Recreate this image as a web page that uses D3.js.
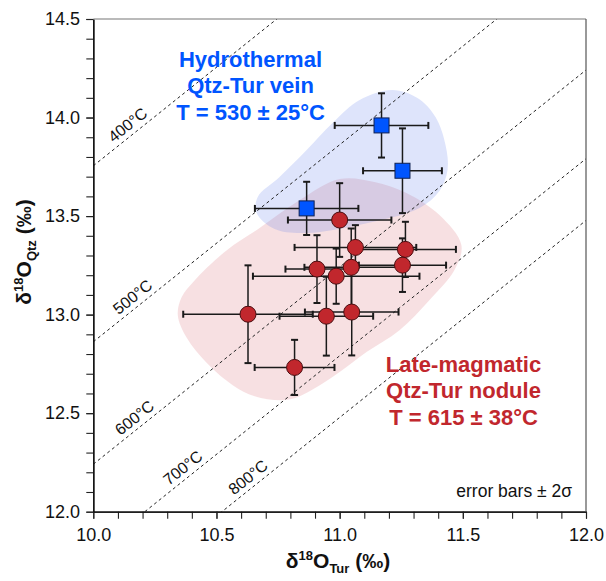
<!DOCTYPE html>
<html>
<head>
<meta charset="utf-8">
<script src="https://cdn.jsdelivr.net/npm/d3@7"></script>
<style>
body { margin: 0; background: #fff; }
svg { font-family: "Liberation Sans", Arial, sans-serif; }
</style>
</head>
<body>
<svg id="drawing_region"></svg>
<script>
// tick labels
const xTicks = [10.0, 10.5, 11.0, 11.5, 12.0];
const yTicks = [12.0, 12.5, 13.0, 13.5, 14.0, 14.5];

// isotherms: δQtz = δTur + delta
const isoLabels = ['400°C', '500°C', '600°C', '700°C', '800°C'];
const isoDelta = [3.755, 2.862, 2.241, 1.791, 1.478];
const isoLabelTur = [10.166, 10.186, 10.194, 10.39, 10.655];

// hydrothermal vein (squares)
const hydTur = [11.17, 11.255, 10.866];
const hydTurErr = [0.19, 0.16, 0.21];
const hydQtz = [13.96, 13.73, 13.539];
const hydQtzErr = [0.163, 0.215, 0.135];

// late-magmatic nodule (circles)
const magTur = [11.0, 11.064, 11.267, 11.255, 11.047, 10.986, 10.908, 10.628, 10.946, 11.049, 10.817];
const magTurErr = [0.21, 0.247, 0.205, 0.177, 0.19, 0.338, 0.128, 0.263, 0.19, 0.19, 0.162];
const magQtz = [13.48, 13.341, 13.331, 13.251, 13.24, 13.195, 13.231, 13.002, 12.992, 13.013, 12.732];
const magQtzErr = [0.187, 0.113, 0.14, 0.136, 0.197, 0.14, 0.172, 0.248, 0.2, 0.22, 0.14];

// field outlines [δTur, δQtz]
const hydField = [
    [11.214, 14.140], [11.316, 14.099], [11.389, 14.003], [11.430, 13.860],
    [11.438, 13.734], [11.405, 13.627], [11.324, 13.541], [11.133, 13.470],
    [10.866, 13.414], [10.736, 13.434], [10.663, 13.515], [10.667, 13.596],
    [10.756, 13.698], [10.866, 13.835], [10.971, 13.972], [11.081, 14.089]
];
const magField = [
    [11.000, 13.688], [11.141, 13.673], [11.271, 13.617], [11.405, 13.505],
    [11.494, 13.353], [11.466, 13.226], [11.365, 13.074], [11.243, 12.921],
    [11.109, 12.810], [10.971, 12.683], [10.838, 12.586], [10.769, 12.566],
    [10.655, 12.586], [10.566, 12.642], [10.461, 12.754], [10.380, 12.881],
    [10.343, 12.997], [10.359, 13.089], [10.412, 13.175], [10.542, 13.327],
    [10.675, 13.439], [10.838, 13.581]
];

const width = 606, height = 581;
const margin = {top: 19, right: 20, bottom: 69.3, left: 93.3};
const innerW = width - margin.left - margin.right;
const innerH = height - margin.top - margin.bottom;

const svg = d3.select('#drawing_region')
    .attr('width', width)
    .attr('height', height);

const chart = svg.append('g')
    .attr('transform', `translate(${margin.left}, ${margin.top})`);

const xscale = d3.scaleLinear().domain([10, 12]).range([0, innerW]);
const yscale = d3.scaleLinear().domain([12, 14.5]).range([innerH, 0]);

chart.append('clipPath').attr('id', 'plotclip')
    .append('rect').attr('width', innerW).attr('height', innerH);

const plot = chart.append('g').attr('clip-path', 'url(#plotclip)');

// fields
const outline = d3.line()
    .x(d => xscale(d[0]))
    .y(d => yscale(d[1]))
    .curve(d3.curveCatmullRomClosed.alpha(0.5));

plot.append('path')
    .attr('d', outline(magField))
    .attr('fill', 'rgb(205,70,85)')
    .attr('fill-opacity', 0.17);

plot.append('path')
    .attr('d', outline(hydField))
    .attr('fill', 'rgb(90,120,235)')
    .attr('fill-opacity', 0.2);

// isotherms
const angle = Math.atan2(yscale(12) - yscale(13), xscale(11) - xscale(10)) * 180 / Math.PI;

plot.selectAll('.iso')
    .data(isoDelta)
    .enter()
    .append('line')
    .attr('x1', xscale(10))
    .attr('y1', d => yscale(10 + d))
    .attr('x2', xscale(12))
    .attr('y2', d => yscale(12 + d))
    .attr('stroke', '#222')
    .attr('stroke-width', 1)
    .attr('stroke-dasharray', '3,3');

chart.selectAll('.isolabel')
    .data(isoLabels)
    .enter()
    .append('text')
    .attr('transform', (d, i) => {
        const x = xscale(isoLabelTur[i]);
        const y = yscale(isoLabelTur[i] + isoDelta[i]);
        return `translate(${x}, ${y}) rotate(${-angle})`;
    })
    .attr('y', -5)
    .attr('text-anchor', 'middle')
    .attr('font-size', 16)
    .attr('fill', '#111')
    .text(d => d);

// error bars
function errorBars(tur, turErr, qtz, qtzErr) {
    const g = chart.append('g')
        .attr('stroke', '#1a1a1a')
        .attr('stroke-width', 1.5);
    const cap = 3.5;
    tur.forEach((t, i) => {
        const q = qtz[i];
        const x0 = xscale(t - turErr[i]), x1 = xscale(t + turErr[i]);
        const y0 = yscale(q - qtzErr[i]), y1 = yscale(q + qtzErr[i]);
        const cx = xscale(t), cy = yscale(q);
        g.append('line').attr('x1', x0).attr('x2', x1).attr('y1', cy).attr('y2', cy);
        g.append('line').attr('x1', cx).attr('x2', cx).attr('y1', y0).attr('y2', y1);
        g.append('line').attr('x1', x0).attr('x2', x0).attr('y1', cy - cap).attr('y2', cy + cap).attr('stroke-width', 2);
        g.append('line').attr('x1', x1).attr('x2', x1).attr('y1', cy - cap).attr('y2', cy + cap).attr('stroke-width', 2);
        g.append('line').attr('x1', cx - cap).attr('x2', cx + cap).attr('y1', y0).attr('y2', y0).attr('stroke-width', 2);
        g.append('line').attr('x1', cx - cap).attr('x2', cx + cap).attr('y1', y1).attr('y2', y1).attr('stroke-width', 2);
    });
}

errorBars(magTur, magTurErr, magQtz, magQtzErr);
errorBars(hydTur, hydTurErr, hydQtz, hydQtzErr);

chart.append('g')
    .selectAll('circle')
    .data(magTur)
    .enter()
    .append('circle')
    .attr('cx', d => xscale(d))
    .attr('cy', (d, i) => yscale(magQtz[i]))
    .attr('r', 8)
    .attr('fill', '#c1272d')
    .attr('stroke', '#4a0d10')
    .attr('stroke-width', 1);

const sq = 15;
chart.append('g')
    .selectAll('rect')
    .data(hydTur)
    .enter()
    .append('rect')
    .attr('x', d => xscale(d) - sq / 2)
    .attr('y', (d, i) => yscale(hydQtz[i]) - sq / 2)
    .attr('width', sq)
    .attr('height', sq)
    .attr('fill', '#0055ff')
    .attr('stroke', '#102050')
    .attr('stroke-width', 1);

// axes
const fmt = d3.format('.1f');
const xMinor = chart.append('g')
    .attr('transform', `translate(0, ${innerH})`)
    .call(d3.axisBottom(xscale).tickValues(d3.range(0, 21).map(i => 10 + i * 0.1)).tickSize(7).tickFormat('').tickSizeOuter(0));
const yMinor = chart.append('g')
    .call(d3.axisLeft(yscale).tickValues(d3.range(0, 26).map(i => 12 + i * 0.1)).tickSize(7).tickFormat('').tickSizeOuter(0));

const xaxis = chart.append('g')
    .attr('transform', `translate(0, ${innerH})`)
    .call(d3.axisBottom(xscale).tickValues(xTicks).tickFormat(fmt).tickSize(7).tickPadding(10).tickSizeOuter(0));
const yaxis = chart.append('g')
    .call(d3.axisLeft(yscale).tickValues(yTicks).tickFormat(fmt).tickSize(7).tickPadding(6.3).tickSizeOuter(0));

[xMinor, yMinor, xaxis, yaxis].forEach(a => {
    a.selectAll('line').attr('stroke', '#222').attr('stroke-width', 1.1);
    a.select('.domain').attr('stroke', '#111').attr('stroke-width', 1.3);
});
[xaxis, yaxis].forEach(a => {
    a.selectAll('text')
        .attr('font-family', '"Liberation Sans", Arial, sans-serif')
        .attr('font-size', 18)
        .attr('fill', '#111');
});

// top and right frame
chart.append('line').attr('x1', 0).attr('x2', innerW).attr('y1', 0).attr('y2', 0)
    .attr('stroke', '#777').attr('stroke-width', 1.2);
chart.append('line').attr('x1', innerW).attr('x2', innerW).attr('y1', 0).attr('y2', innerH)
    .attr('stroke', '#555').attr('stroke-width', 1.2);

// axis titles
const xt = svg.append('text')
    .attr('x', 338).attr('y', 568)
    .attr('text-anchor', 'middle')
    .attr('font-weight', 'bold')
    .attr('font-size', 21)
    .attr('fill', '#111');
xt.append('tspan').text('δ');
xt.append('tspan').attr('font-size', 13).attr('dy', -8).text('18');
xt.append('tspan').attr('dy', 8).text('O');
xt.append('tspan').attr('font-size', 13).attr('dy', 5).text('Tur');
xt.append('tspan').attr('dy', -5).text(' (‰)');

const yt = svg.append('text')
    .attr('transform', 'translate(31, 252) rotate(-90)')
    .attr('text-anchor', 'middle')
    .attr('font-weight', 'bold')
    .attr('font-size', 21)
    .attr('fill', '#111');
yt.append('tspan').text('δ');
yt.append('tspan').attr('font-size', 13).attr('dy', -8).text('18');
yt.append('tspan').attr('dy', 8).text('O');
yt.append('tspan').attr('font-size', 13).attr('dy', 5).text('Qtz');
yt.append('tspan').attr('dy', -5).text(' (‰)');

// annotations
function block(lines, x, y, color) {
    const t = svg.append('text')
        .attr('text-anchor', 'middle')
        .attr('font-weight', 'bold')
        .attr('font-size', 22)
        .attr('fill', color);
    lines.forEach((s, i) => {
        t.append('tspan').attr('x', x).attr('y', y + i * 26.8).text(s);
    });
}
block(['Hydrothermal', 'Qtz-Tur vein', 'T = 530 ± 25°C'], 250.5, 66.5, '#0055ff');
block(['Late-magmatic', 'Qtz-Tur nodule', 'T = 615 ± 38°C'], 463.5, 371.5, '#c1272d');

svg.append('text')
    .attr('x', 572).attr('y', 497)
    .attr('text-anchor', 'end')
    .attr('font-size', 17.5)
    .attr('fill', '#111')
    .text('error bars ± 2σ');
</script>
</body>
</html>
